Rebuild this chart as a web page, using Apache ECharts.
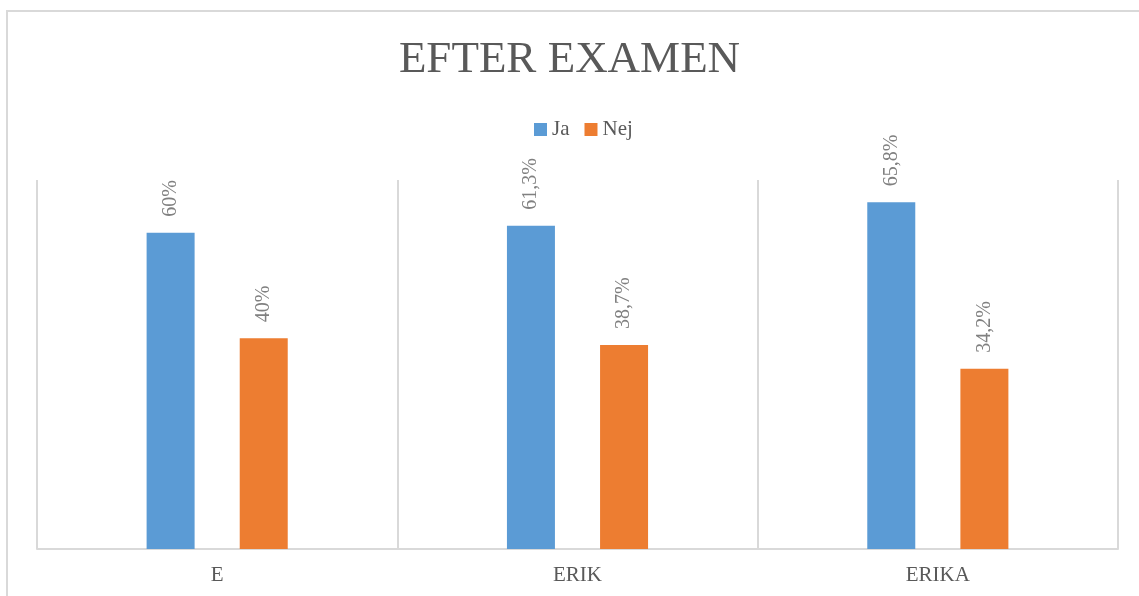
<!DOCTYPE html>
<html>
<head>
<meta charset="utf-8">
<title>Efter examen</title>
<script src="https://cdn.jsdelivr.net/npm/echarts@6/dist/echarts.min.js"></script>
<style>
  html, body { margin: 0; padding: 0; background: #fff; }
  #chart { width: 1139px; height: 596px; }
</style>
</head>
<body>
<div id="chart"></div>
<script>
const categories = ['E', 'ERIK', 'ERIKA']
const jaValues = [60, 61.3, 65.8]
const nejValues = [40, 38.7, 34.2]

const FONT = '"Liberation Serif", "DejaVu Serif", serif'
const BLUE = '#5b9bd5'
const ORANGE = '#ed7d31'

function pct(v) {
  return String(v).replace('.', ',') + '%'
}

const labelStyle = {
  show: true,
  position: 'top',
  rotate: 90,
  align: 'left',
  verticalAlign: 'middle',
  distance: 16,
  color: '#808080',
  fontFamily: FONT,
  fontSize: 20,
  formatter: (p) => pct(p.value),
}

const chart = echarts.init(document.getElementById('chart'))
chart.setOption({
  animation: false,
  backgroundColor: '#fff',
  textStyle: { fontFamily: FONT },
  graphic: [{
    type: 'rect',
    shape: { x: 7, y: 11, width: 1200, height: 700 },
    style: { fill: 'none', stroke: '#d9d9d9', lineWidth: 2 },
    silent: true,
  }],
  title: {
    text: 'EFTER EXAMEN',
    left: 'center',
    top: 33,
    textStyle: { color: '#595959', fontFamily: FONT, fontSize: 45, fontWeight: 'normal' },
  },
  legend: {
    left: 529,
    top: 114,
    icon: 'rect',
    itemWidth: 13,
    itemHeight: 13,
    itemGap: 15,
    textStyle: { color: '#595959', fontFamily: FONT, fontSize: 21 },
    data: ['Ja', 'Nej'],
  },
  grid: { left: 37, right: 21, top: 180, bottom: 47 },
  xAxis: {
    type: 'category',
    data: categories,
    axisLine: { lineStyle: { color: '#d9d9d9', width: 2 } },
    axisTick: { show: false },
    axisLabel: { color: '#595959', fontFamily: FONT, fontSize: 21, margin: 16 },
    splitLine: { show: true, lineStyle: { color: '#d9d9d9', width: 2 } },
  },
  yAxis: {
    type: 'value',
    min: 0,
    max: 70,
    show: false,
    splitLine: { show: false },
  },
  series: [
    {
      name: 'Ja',
      type: 'bar',
      data: jaValues,
      barWidth: 48,
      barGap: '94%',
      itemStyle: { color: BLUE },
      label: labelStyle,
    },
    {
      name: 'Nej',
      type: 'bar',
      data: nejValues,
      barWidth: 48,
      itemStyle: { color: ORANGE },
      label: labelStyle,
    },
  ],
})
</script>
</body>
</html>
